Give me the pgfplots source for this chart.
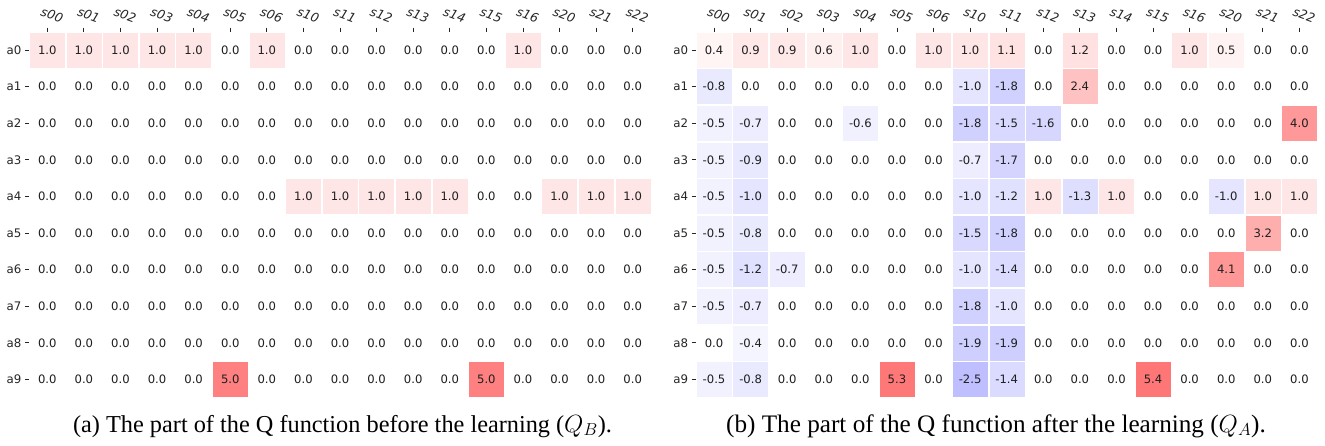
\documentclass[border=0pt]{standalone}
\usepackage{pgfplots}
\pgfplotsset{compat=1.18}
\usepackage{fontspec}
\setmainfont{Liberation Serif}
\newfontfamily\dejavu{DejaVu Sans}
\pgfplotsset{
 hmap/.style={
  scale only axis, width=622pt, height=366pt,
  xmin=-0.5, xmax=16.5, ymin=-0.5, ymax=9.5,
  axis line style={draw=none},
  xtick={0,...,16}, ytick={0,...,9},
  xticklabels={s00,s01,s02,s03,s04,s05,s06,s10,s11,s12,s13,s14,s15,s16,s20,s21,s22},
  yticklabels={a9,a8,a7,a6,a5,a4,a3,a2,a1,a0},
  xtick pos=right, xticklabel pos=right,
  ytick pos=left,
  tick align=outside,
  major tick length=4pt,
  tick style={line width=0.8pt, color=black!85},
  xticklabel style={font=\dejavu\itshape\fontsize{12.5}{12.5}\selectfont, rotate=-20, anchor=center, inner sep=0pt, yshift=13.8pt, text=black!85},
  yticklabel style={font=\dejavu\fontsize{11.8}{11.8}\selectfont, text=black!85},
  clip=false,
  point meta min=-10, point meta max=10,
  colormap={bwr}{rgb255=(0,0,255) rgb255=(255,255,255) rgb255=(255,0,0)},
 },
 cell/.style={scatter, only marks, mark=square*, mark size=17pt, point meta=explicit,
  scatter/use mapped color={draw=mapped color, fill=mapped color}},
 lab/.style={only marks, mark=none, point meta=explicit,
  visualization depends on={value \thisrow{v} \as \lbl},
  nodes near coords={\lbl}, nodes near coords align=center,
  every node near coord/.append style={font=\dejavu\fontsize{11.6}{11.6}\selectfont, text=black!88}},
}
\newcommand\hrow[2]{%
 \addplot[cell] table[row sep=\\, x expr=\coordindex, y expr=#1, meta=v]{#2};
 \addplot[lab] table[row sep=\\, x expr=\coordindex, y expr=#1, meta=v]{#2};
}
\begin{document}
\begin{tikzpicture}
\useasboundingbox (0,0) rectangle (1325pt,-445pt);
% ---------------- (a) Q_B ----------------
\begin{axis}[hmap, at={(29pt,-31.7pt)}, anchor=north west]
\hrow{9}{v\\1.0\\1.0\\1.0\\1.0\\1.0\\0.0\\1.0\\0.0\\0.0\\0.0\\0.0\\0.0\\0.0\\1.0\\0.0\\0.0\\0.0\\}
\hrow{8}{v\\0.0\\0.0\\0.0\\0.0\\0.0\\0.0\\0.0\\0.0\\0.0\\0.0\\0.0\\0.0\\0.0\\0.0\\0.0\\0.0\\0.0\\}
\hrow{7}{v\\0.0\\0.0\\0.0\\0.0\\0.0\\0.0\\0.0\\0.0\\0.0\\0.0\\0.0\\0.0\\0.0\\0.0\\0.0\\0.0\\0.0\\}
\hrow{6}{v\\0.0\\0.0\\0.0\\0.0\\0.0\\0.0\\0.0\\0.0\\0.0\\0.0\\0.0\\0.0\\0.0\\0.0\\0.0\\0.0\\0.0\\}
\hrow{5}{v\\0.0\\0.0\\0.0\\0.0\\0.0\\0.0\\0.0\\1.0\\1.0\\1.0\\1.0\\1.0\\0.0\\0.0\\1.0\\1.0\\1.0\\}
\hrow{4}{v\\0.0\\0.0\\0.0\\0.0\\0.0\\0.0\\0.0\\0.0\\0.0\\0.0\\0.0\\0.0\\0.0\\0.0\\0.0\\0.0\\0.0\\}
\hrow{3}{v\\0.0\\0.0\\0.0\\0.0\\0.0\\0.0\\0.0\\0.0\\0.0\\0.0\\0.0\\0.0\\0.0\\0.0\\0.0\\0.0\\0.0\\}
\hrow{2}{v\\0.0\\0.0\\0.0\\0.0\\0.0\\0.0\\0.0\\0.0\\0.0\\0.0\\0.0\\0.0\\0.0\\0.0\\0.0\\0.0\\0.0\\}
\hrow{1}{v\\0.0\\0.0\\0.0\\0.0\\0.0\\0.0\\0.0\\0.0\\0.0\\0.0\\0.0\\0.0\\0.0\\0.0\\0.0\\0.0\\0.0\\}
\hrow{0}{v\\0.0\\0.0\\0.0\\0.0\\0.0\\5.0\\0.0\\0.0\\0.0\\0.0\\0.0\\0.0\\5.0\\0.0\\0.0\\0.0\\0.0\\}
\end{axis}
% ---------------- (b) Q_A ----------------
\begin{axis}[hmap, at={(695.7pt,-31.7pt)}, anchor=north west]
\hrow{9}{v\\0.4\\0.9\\0.9\\0.6\\1.0\\0.0\\1.0\\1.0\\1.1\\0.0\\1.2\\0.0\\0.0\\1.0\\0.5\\0.0\\0.0\\}
\hrow{8}{v\\-0.8\\0.0\\0.0\\0.0\\0.0\\0.0\\0.0\\-1.0\\-1.8\\0.0\\2.4\\0.0\\0.0\\0.0\\0.0\\0.0\\0.0\\}
\hrow{7}{v\\-0.5\\-0.7\\0.0\\0.0\\-0.6\\0.0\\0.0\\-1.8\\-1.5\\-1.6\\0.0\\0.0\\0.0\\0.0\\0.0\\0.0\\4.0\\}
\hrow{6}{v\\-0.5\\-0.9\\0.0\\0.0\\0.0\\0.0\\0.0\\-0.7\\-1.7\\0.0\\0.0\\0.0\\0.0\\0.0\\0.0\\0.0\\0.0\\}
\hrow{5}{v\\-0.5\\-1.0\\0.0\\0.0\\0.0\\0.0\\0.0\\-1.0\\-1.2\\1.0\\-1.3\\1.0\\0.0\\0.0\\-1.0\\1.0\\1.0\\}
\hrow{4}{v\\-0.5\\-0.8\\0.0\\0.0\\0.0\\0.0\\0.0\\-1.5\\-1.8\\0.0\\0.0\\0.0\\0.0\\0.0\\0.0\\3.2\\0.0\\}
\hrow{3}{v\\-0.5\\-1.2\\-0.7\\0.0\\0.0\\0.0\\0.0\\-1.0\\-1.4\\0.0\\0.0\\0.0\\0.0\\0.0\\4.1\\0.0\\0.0\\}
\hrow{2}{v\\-0.5\\-0.7\\0.0\\0.0\\0.0\\0.0\\0.0\\-1.8\\-1.0\\0.0\\0.0\\0.0\\0.0\\0.0\\0.0\\0.0\\0.0\\}
\hrow{1}{v\\0.0\\-0.4\\0.0\\0.0\\0.0\\0.0\\0.0\\-1.9\\-1.9\\0.0\\0.0\\0.0\\0.0\\0.0\\0.0\\0.0\\0.0\\}
\hrow{0}{v\\-0.5\\-0.8\\0.0\\0.0\\0.0\\5.3\\0.0\\-2.5\\-1.4\\0.0\\0.0\\0.0\\5.4\\0.0\\0.0\\0.0\\0.0\\}
\end{axis}
\node[anchor=base, font=\fontsize{24.3}{29}\selectfont, inner sep=0pt] at (342.5pt,-432pt) {(a) The part of the Q function before the learning ($Q_B$).};
\node[anchor=base, font=\fontsize{25.2}{30}\selectfont, inner sep=0pt] at (996pt,-432pt) {(b) The part of the Q function after the learning ($Q_A$).};
\end{tikzpicture}
\end{document}
